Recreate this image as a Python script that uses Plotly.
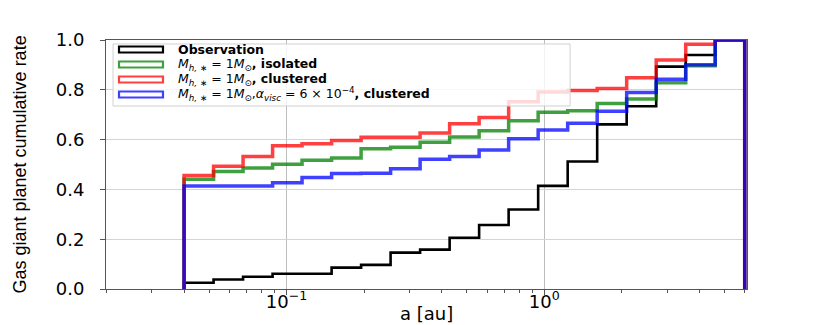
import plotly.graph_objects as go

# bin edges in au (log-spaced, 0.04 .. 6)
bin_edges = [0.04, 0.05206, 0.06777, 0.08822, 0.1148, 0.1495, 0.1946, 0.2533,
             0.3298, 0.4293, 0.5588, 0.7274, 0.9471, 1.233, 1.605, 2.089,
             2.720, 3.541, 4.609, 6.0]

# cumulative rate per bin
observation = [0.025, 0.038, 0.049, 0.061, 0.061, 0.086, 0.097, 0.146, 0.158, 0.206,
               0.257, 0.319, 0.414, 0.512, 0.661, 0.734, 0.893, 0.940, 1.0]
isolated = [0.441, 0.472, 0.486, 0.501, 0.517, 0.526, 0.563, 0.569, 0.589, 0.610,
            0.636, 0.676, 0.710, 0.716, 0.745, 0.763, 0.828, 0.897, 1.0]
clustered = [0.456, 0.493, 0.532, 0.575, 0.583, 0.596, 0.609, 0.609, 0.627, 0.664,
             0.689, 0.752, 0.791, 0.797, 0.805, 0.848, 0.920, 0.983, 1.0]
clustered_visc = [0.414, 0.414, 0.414, 0.427, 0.448, 0.464, 0.465, 0.483, 0.521, 0.532,
                  0.558, 0.603, 0.639, 0.666, 0.714, 0.789, 0.842, 0.901, 1.0]

labels = ["<b>Observation</b>",
          "<i>M</i><sub><i>h,</i> ∗</sub> = 1<i>M</i><sub>⊙</sub><b>, isolated</b>",
          "<i>M</i><sub><i>h,</i> ∗</sub> = 1<i>M</i><sub>⊙</sub><b>, clustered</b>",
          "<i>M</i><sub><i>h,</i> ∗</sub> = 1<i>M</i><sub>⊙</sub>,<i>α</i><sub><i>visc</i></sub>"
          " = 6 × 10<sup>−4</sup><b>, clustered</b>"]
colors = ["black", "rgba(0,128,0,0.75)", "rgba(255,0,0,0.75)", "rgba(0,0,255,0.75)"]
widths = [2.6, 3.5, 3.5, 3.5]
series = [observation, isolated, clustered, clustered_visc]

minor_ticks = [0.02, 0.03, 0.04, 0.05, 0.06, 0.07, 0.08, 0.09,
               0.2, 0.3, 0.4, 0.5, 0.6, 0.7, 0.8, 0.9, 2, 3, 4, 5, 6]

fig = go.Figure()

##step outline like matplotlib histtype='step': up from 0 at first edge, down to 0 at last edge
for vals, col, w in zip(series, colors, widths):
    xs = [bin_edges[0]] + bin_edges
    ys = [0] + vals + [0]
    fig.add_trace(go.Scatter(x=xs, y=ys, mode='lines', line_shape='hv',
                             line=dict(color=col, width=w), showlegend=False,
                             hoverinfo='skip'))

##hand-made legend so the patches look like outlined boxes
shapes = [dict(type='rect', xref='paper', yref='paper', x0=0.011, x1=0.724, y0=0.735, y1=0.984,
               line=dict(color='#d0d0d0', width=1), fillcolor='rgba(255,255,255,0.8)', layer='above')]
annotations = []
row_y = [49.5, 64.5, 79.5, 94.5]
for i, (lab, col) in enumerate(zip(labels, colors)):
    yc = (289 - row_y[i]) / 249
    shapes.append(dict(type='rect', xref='paper', yref='paper', x0=0.0203, x1=0.0889,
                       y0=yc - 0.012, y1=yc + 0.012, layer='above',
                       line=dict(color=col, width=2.2), fillcolor='white'))
    annotations.append(dict(xref='paper', yref='paper', x=0.1108, y=yc, xanchor='left',
                            yanchor='middle', showarrow=False, text=lab, borderpad=0,
                            font=dict(family='DejaVu Sans', size=12.5, color='black')))

##axis titles as annotations for exact placement
annotations.append(dict(xref='paper', yref='paper', x=0, y=0.5, xshift=-87, xanchor='center',
                        yanchor='middle', textangle=-90, showarrow=False, borderpad=0,
                        text='Gas giant planet cumulative rate',
                        font=dict(family='Liberation Sans', size=18, color='black')))
annotations.append(dict(xref='paper', yref='paper', x=0.5, y=0, yshift=-36, xanchor='center',
                        yanchor='bottom', showarrow=False, text='a [au]', borderpad=0,
                        font=dict(family='DejaVu Sans', size=18, color='black')))

##page body has an 8px margin, so the figure is 8px smaller than the window
fig.update_layout(
    width=822, height=317, autosize=False,
    margin=dict(l=98, r=83, t=32, b=36),
    paper_bgcolor='white', plot_bgcolor='white',
    shapes=shapes, annotations=annotations,
    xaxis=dict(type='log', range=[-1.701, 0.787],
               tickvals=[0.1, 1], ticktext=['10<sup>−1</sup>', '10<sup>0</sup>'],
               ticks='outside', ticklen=5, tickcolor='#555', ticklabelstandoff=-9,
               showline=True, mirror=True, linecolor='#555', linewidth=1,
               showgrid=True, gridcolor='#bdbdbd', zeroline=False,
               tickfont=dict(family='DejaVu Sans', size=18, color='black'),
               minor=dict(tickmode='array', tickvals=minor_ticks, ticks='outside',
                          ticklen=3, tickcolor='#555', showgrid=False)),
    yaxis=dict(range=[0, 1], dtick=0.2, tickformat='.1f',
               ticks='outside', ticklen=5, tickcolor='#555', ticklabelstandoff=12,
               showline=True, mirror=True, linecolor='#555', linewidth=1,
               showgrid=True, gridcolor='#d4d4d4', zeroline=False,
               tickfont=dict(family='DejaVu Sans', size=18, color='black')),
)

fig.write_html("out.html")
